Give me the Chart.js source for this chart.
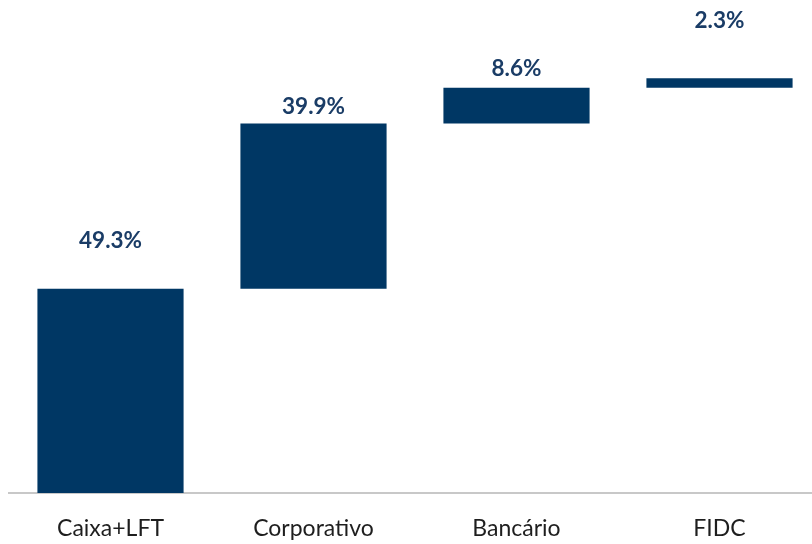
<!DOCTYPE html>
<html>
<head>
<meta charset="utf-8">
<script src="https://cdn.jsdelivr.net/npm/chart.js@4/dist/chart.umd.min.js"></script>
<style>
html,body{margin:0;padding:0;background:#fff;overflow:hidden;}
#wrap{width:812px;height:544px;overflow:hidden;position:relative;}
canvas{display:block;}
</style>
</head>
<body>
<div id="wrap"><canvas id="c" width="830" height="544"></canvas></div>
<script>
const categories = ["Caixa+LFT", "Corporativo", "Bancário", "FIDC"];
const values = [49.3, 39.9, 8.6, 2.3];
const valueLabels = ["49.3%", "39.9%", "8.6%", "2.3%"];

// waterfall ranges built from values
const ranges = [];
let acc = 0;
for (const v of values) { ranges.push([acc, +(acc + v).toFixed(1)]); acc += v; }

const labelOffsets = [48, 17, 19, 58]; // px above bar top

const labelPlugin = {
  id: 'valueLabels',
  afterDatasetsDraw(chart) {
    const ctx = chart.ctx;
    const meta = chart.getDatasetMeta(0);
    ctx.save();
    ctx.font = 'bold 22.5px Lato';
    ctx.fillStyle = '#1a3c66';
    ctx.textAlign = 'center';
    ctx.textBaseline = 'middle';
    meta.data.forEach((bar, i) => {
      const top = Math.min(bar.y, bar.base);
      ctx.fillText(valueLabels[i], bar.x, top - labelOffsets[i]);
    });
    ctx.restore();
  }
};

new Chart(document.getElementById('c'), {
  type: 'bar',
  data: {
    labels: categories,
    datasets: [{
      data: ranges,
      backgroundColor: '#003764',
      borderWidth: 0,
      categoryPercentage: 0.72,
      barPercentage: 1.0
    }]
  },
  options: {
    responsive: false,
    animation: false,
    layout: { padding: { left: 9, right: 9, top: 0, bottom: 0 } },
    plugins: { legend: { display: false }, tooltip: { enabled: false } },
    scales: {
      x: {
        grid: { display: false, drawTicks: false },
        border: { display: true, color: '#c8c8c8', width: 2 },
        ticks: { font: { family: 'Lato', size: 23 }, color: '#1e1e1e', padding: 22 },
        afterFit(scale) { scale.height = 51; }
      },
      y: {
        display: false,
        min: 0,
        max: 119
      }
    }
  },
  plugins: [labelPlugin]
});
</script>
</body>
</html>
